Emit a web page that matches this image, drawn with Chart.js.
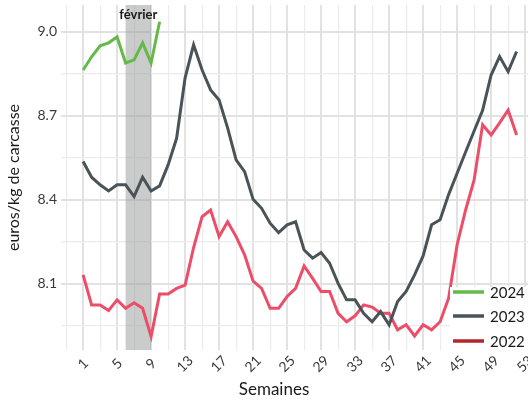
<!DOCTYPE html>
<html>
<head>
<meta charset="utf-8">
<script src="https://cdn.jsdelivr.net/npm/chart.js@4.4.1/dist/chart.umd.min.js"></script>
<style>
  html, body { margin: 0; padding: 0; background: #fff; }
  canvas { display: block; }
</style>
</head>
<body>
<canvas id="chart" width="528" height="401"></canvas>
<script>
// semaines de l'année
const weeks = [1, 2, 3, 4, 5, 6, 7, 8, 9, 10, 11, 12, 13, 14, 15, 16, 17, 18, 19, 20,
  21, 22, 23, 24, 25, 26, 27, 28, 29, 30, 31, 32, 33, 34, 35, 36, 37, 38, 39, 40,
  41, 42, 43, 44, 45, 46, 47, 48, 49, 50, 51, 52];

const prix2024 = [8.864, 8.911, 8.95, 8.961, 8.982, 8.889, 8.9, 8.961, 8.889, 9.036];

const prix2023 = [8.537, 8.481, 8.454, 8.432, 8.454, 8.454, 8.412, 8.481, 8.432, 8.45,
  8.525, 8.62, 8.836, 8.954, 8.864, 8.793, 8.757, 8.657, 8.543, 8.501,
  8.402, 8.37, 8.317, 8.283, 8.311, 8.322, 8.221, 8.192, 8.212, 8.174,
  8.102, 8.043, 8.043, 7.995, 7.965, 8.001, 7.954, 8.037, 8.073, 8.132,
  8.2, 8.311, 8.329, 8.419, 8.495, 8.571, 8.646, 8.72, 8.846, 8.912,
  8.858, 8.93];

const prix2022 = [8.132, 8.025, 8.025, 8.005, 8.043, 8.013, 8.033, 8.013, 7.912, 8.064,
  8.064, 8.084, 8.096, 8.23, 8.34, 8.364, 8.269, 8.322, 8.269, 8.204,
  8.11, 8.084, 8.013, 8.013, 8.055, 8.084, 8.164, 8.12, 8.073, 8.073,
  7.995, 7.965, 7.986, 8.025, 8.017, 7.995, 7.995, 7.936, 7.954, 7.914,
  7.954, 7.936, 7.965, 8.049, 8.24, 8.364, 8.471, 8.668, 8.632, 8.675,
  8.721, 8.632];

const xLabels = [1, 5, 9, 13, 17, 21, 25, 29, 33, 37, 41, 45, 49, 53];
const xGrid = [-1, 1, 3, 5, 7, 9, 11, 13, 15, 17, 19, 21, 23, 25, 27, 29, 31, 33, 35,
  37, 39, 41, 43, 45, 47, 49, 51, 53];
const yLabels = [8.1, 8.4, 8.7, 9.0];
const yGrid = [7.95, 8.1, 8.25, 8.4, 8.55, 8.7, 8.85, 9.0];

const febStart = 6, febEnd = 9;

const series = [
  { label: '2024', data: prix2024, line: '#63BA48', key: '#63BA48' },
  { label: '2023', data: prix2023, line: '#4A5357', key: '#4A5357' },
  { label: '2022', data: prix2022, line: '#EC4E69', key: '#B2262C' }
];

const FONT = 'Lato, "Open Sans", sans-serif';

function toPoints(vals) {
  return vals.map((v, i) => ({ x: weeks[i], y: v }));
}

function isLabel(list, v) {
  return list.some(l => Math.abs(l - v) < 1e-6);
}

// bande grise de février + libellé
const fevrierPlugin = {
  id: 'fevrier',
  beforeDatasetsDraw(chart) {
    const { ctx, chartArea, scales } = chart;
    const x1 = scales.x.getPixelForValue(febStart);
    const x2 = scales.x.getPixelForValue(febEnd);
    ctx.save();
    ctx.fillStyle = 'rgba(150,152,152,0.5)';
    ctx.fillRect(x1, chartArea.top, x2 - x1, chartArea.bottom - chartArea.top);
    ctx.restore();
  },
  afterDatasetsDraw(chart) {
    const { ctx, scales } = chart;
    const xm = scales.x.getPixelForValue((febStart + febEnd) / 2);
    ctx.save();
    ctx.font = 'bold 13px ' + FONT;
    ctx.fillStyle = '#1a1a1a';
    ctx.textAlign = 'center';
    ctx.textBaseline = 'middle';
    ctx.fillText('février', xm, 15);
    ctx.restore();
  }
};

// légende dans le panneau
const legendPlugin = {
  id: 'insideLegend',
  afterDatasetsDraw(chart) {
    const { ctx } = chart;
    ctx.save();
    ctx.fillStyle = '#fff';
    ctx.fillRect(450, 287, 78, 64);
    const rows = [292, 316, 341];
    series.forEach((s, i) => {
      ctx.strokeStyle = s.key;
      ctx.lineWidth = 3.5;
      ctx.beginPath();
      ctx.moveTo(453, rows[i]);
      ctx.lineTo(484, rows[i]);
      ctx.stroke();
      ctx.font = '15px ' + FONT;
      ctx.fillStyle = '#1a1a1a';
      ctx.textAlign = 'left';
      ctx.textBaseline = 'middle';
      ctx.fillText(s.label, 490, rows[i] + 1);
    });
    ctx.restore();
  }
};

// étiquettes de l'axe x inclinées + titre
const xAxisPlugin = {
  id: 'xAxisText',
  afterDraw(chart) {
    const { ctx, scales } = chart;
    ctx.save();
    ctx.font = '14px ' + FONT;
    ctx.fillStyle = '#3a3a3a';
    ctx.textAlign = 'center';
    ctx.textBaseline = 'middle';
    xLabels.forEach(w => {
      const px = scales.x.getPixelForValue(w);
      ctx.save();
      ctx.translate(px, 364);
      ctx.rotate(-Math.PI / 4);
      ctx.fillText(String(w), 0, 0);
      ctx.restore();
    });
    ctx.font = '17px ' + FONT;
    ctx.fillStyle = '#1a1a1a';
    ctx.fillText('Semaines', 274, 390);
    ctx.restore();
  }
};

new Chart(document.getElementById('chart'), {
  type: 'line',
  data: {
    datasets: series.map(s => ({
      label: s.label,
      data: toPoints(s.data),
      borderColor: s.line,
      backgroundColor: s.line,
      borderWidth: 3,
      pointRadius: 0,
      tension: 0,
      fill: false
    }))
  },
  options: {
    responsive: false,
    animation: false,
    devicePixelRatio: 1,
    layout: { padding: { top: 5, right: 0, bottom: 0, left: 0 } },
    plugins: {
      legend: { display: false },
      tooltip: { enabled: false }
    },
    scales: {
      x: {
        type: 'linear',
        min: -1.6,
        max: 53.34,
        afterBuildTicks: scale => { scale.ticks = xGrid.map(v => ({ value: v })); },
        afterFit: scale => {
          scale.height = 51;
          scale.paddingLeft = 0;
          scale.paddingRight = 0;
        },
        ticks: { display: false, autoSkip: false },
        grid: {
          drawTicks: false,
          color: ctx => isLabel(xLabels, ctx.tick.value) ? '#e2e2e2' : '#ececec',
          lineWidth: ctx => isLabel(xLabels, ctx.tick.value) ? 2 : 1.2
        },
        border: { display: false }
      },
      y: {
        min: 7.864,
        max: 9.096,
        afterBuildTicks: scale => { scale.ticks = yGrid.map(v => ({ value: v })); },
        afterFit: scale => {
          scale.width = 61;
          scale.paddingTop = 0;
          scale.paddingBottom = 0;
        },
        ticks: {
          autoSkip: false,
          padding: 4,
          color: '#3a3a3a',
          font: { family: FONT, size: 14 },
          callback: v => isLabel(yLabels, v) ? v.toFixed(1) : ''
        },
        grid: {
          drawTicks: false,
          tickLength: 0,
          color: ctx => isLabel(yLabels, ctx.tick.value) ? '#e2e2e2' : '#ececec',
          lineWidth: ctx => isLabel(yLabels, ctx.tick.value) ? 2 : 1.2
        },
        border: { display: false },
        title: {
          display: true,
          text: 'euros/kg de carcasse',
          color: '#1a1a1a',
          font: { family: FONT, size: 16 },
          padding: { top: 4, bottom: 0 }
        }
      }
    }
  },
  plugins: [fevrierPlugin, legendPlugin, xAxisPlugin]
});
</script>
</body>
</html>
